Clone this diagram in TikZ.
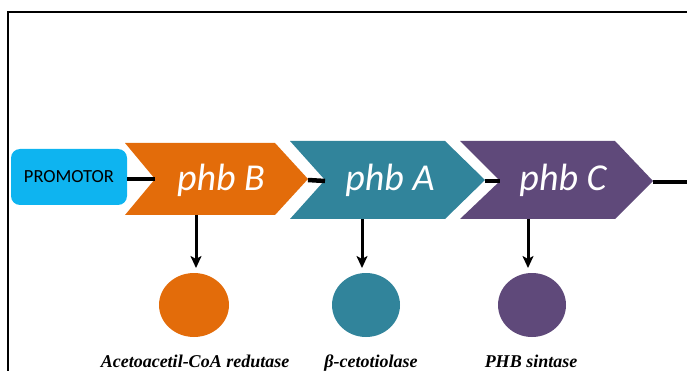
\documentclass[tikz,border=0pt]{standalone}
\usepackage{fontspec}
\setmainfont{Liberation Serif}
\newfontfamily\calibrifont{Carlito}
\usetikzlibrary{arrows.meta}
\definecolor{geneorange}{HTML}{E36C0A}
\definecolor{geneteal}{HTML}{31849B}
\definecolor{genepurple}{HTML}{5F497A}
\definecolor{promblue}{HTML}{0EB4F0}
\tikzset{
  genetext/.style={text=white, font=\calibrifont\itshape\fontsize{38}{40}\selectfont, inner sep=0pt},
  link/.style={line width=4.5pt},
  expr/.style={line width=3pt, -{Stealth[length=12pt,width=11pt,inset=3pt]}},
  protein/.style={font=\bfseries\itshape\fontsize{18}{20}\selectfont, anchor=base, inner sep=0pt},
}
\begin{document}
\begin{tikzpicture}[x=1pt,y=-1pt]
\useasboundingbox (0,0) rectangle (687,371);
\clip (0,0) rectangle (687,371);
% outer frame
\draw[line width=2.2pt] (8,12) rectangle (720,420);

% promoter
\node[fill=promblue, rounded corners=9pt, minimum width=116pt, minimum height=56pt,
      font=\calibrifont\fontsize{18.5}{20}\selectfont, inner sep=0pt] (prom) at (69,177) {PROMOTOR};

% gene chevrons
\fill[geneorange] (125,143) -- (275,143) -- (308,179) -- (275,215) -- (125,215) -- (155,179) -- cycle;
\fill[geneteal]   (290,141) -- (445,141) -- (485,180) -- (445,219) -- (290,219) -- (325,180) -- cycle;
\fill[genepurple] (460,141) -- (615,141) -- (653,181) -- (615,219) -- (460,219) -- (500,181) -- cycle;

\coordinate (bIn) at (155,179);  \coordinate (bOut) at (308,180);
\coordinate (aIn) at (325,181);  \coordinate (aOut) at (485,181);
\coordinate (cIn) at (500,181);  \coordinate (cOut) at (653,182);
\coordinate (tail) at (700,182);

\node[genetext] (phbB) at (221,180) {phb B};
\node[genetext] (phbA) at (390,180) {phb A};
\node[genetext] (phbC) at (563,180) {phb C};

% DNA backbone between elements
\draw[link] (prom.east |- bIn) -- (bIn);
\draw[link] (bOut) -- (aIn);
\draw[link] (aOut) -- (cIn);
\draw[link] (cOut) -- (tail);

% gene products
\fill[geneorange] (194,305) ellipse [x radius=35, y radius=32];
\fill[geneteal]   (366,305) ellipse [x radius=34, y radius=32];
\fill[genepurple] (532,305) ellipse [x radius=34, y radius=32];
\coordinate (pB) at (196,268);
\coordinate (pA) at (362,268);
\coordinate (pC) at (528,268);
\coordinate (sB) at (196,215);
\coordinate (sA) at (362,219);
\coordinate (sC) at (528,219);
\draw[expr] (sB) -- (pB);
\draw[expr] (sA) -- (pA);
\draw[expr] (sC) -- (pC);

\node[protein] (lB) at (195,367) {Acetoacetil-CoA redutase};
\node[protein] (lA) at (371,367) {β-cetotiolase};
\node[protein] (lC) at (531,367) {PHB sintase};
\end{tikzpicture}
\end{document}
